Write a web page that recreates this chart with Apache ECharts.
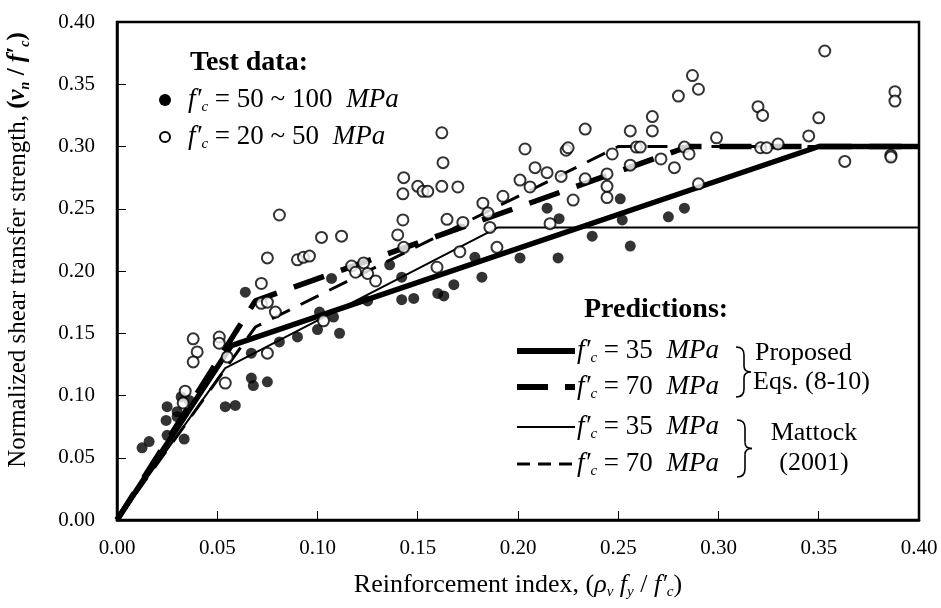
<!DOCTYPE html>
<html>
<head>
<meta charset="utf-8">
<script src="https://cdn.jsdelivr.net/npm/echarts@6/dist/echarts.min.js"></script>
<style>
  html, body { margin: 0; padding: 0; background: #fff; }
  #chart { width: 941px; height: 608px; }
</style>
</head>
<body>
<div id="chart"></div>
<script>
// test data, fc' = 50 ~ 100 MPa (filled)
var highX = [0.0125, 0.016, 0.025, 0.0245, 0.025, 0.0335, 0.030, 0.032, 0.036, 0.030, 0.054, 0.059,
  0.067, 0.068, 0.075, 0.067, 0.064, 0.081, 0.090, 0.107, 0.101, 0.108, 0.100, 0.111, 0.125,
  0.136, 0.142, 0.142, 0.148, 0.160, 0.163, 0.168, 0.1785, 0.182, 0.201, 0.220, 0.2145, 0.2205,
  0.237, 0.251, 0.252, 0.256, 0.275, 0.283];
var highY = [0.058, 0.063, 0.091, 0.080, 0.068, 0.065, 0.083, 0.099, 0.096, 0.087, 0.091, 0.092,
  0.114, 0.108, 0.111, 0.134, 0.183, 0.143, 0.147, 0.194, 0.167, 0.163, 0.153, 0.150, 0.176,
  0.205, 0.195, 0.177, 0.178, 0.182, 0.180, 0.189, 0.211, 0.195, 0.2105, 0.2105, 0.2505, 0.242,
  0.228, 0.258, 0.241, 0.220, 0.2435, 0.2505];

// test data, fc' = 20 ~ 50 MPa (open)
var lowX = [0.034, 0.033, 0.038, 0.040, 0.038, 0.051, 0.051, 0.055, 0.054, 0.075, 0.072, 0.075,
  0.079, 0.072, 0.075, 0.081, 0.090, 0.093, 0.096, 0.102, 0.112, 0.103, 0.117, 0.123, 0.119,
  0.125, 0.129, 0.140, 0.1426, 0.1426, 0.143, 0.143, 0.162, 0.1626, 0.150, 0.1526, 0.155, 0.162,
  0.170, 0.1646, 0.1725, 0.1825, 0.185, 0.1925, 0.201, 0.2035, 0.2085, 0.206, 0.2145, 0.186,
  0.171, 0.1596, 0.1895, 0.2215, 0.2335, 0.2275, 0.216, 0.224, 0.353, 0.287, 0.290, 0.280,
  0.267, 0.267, 0.256, 0.2335, 0.225, 0.259, 0.261, 0.283, 0.2853, 0.247, 0.256, 0.2713, 0.278,
  0.299, 0.3197, 0.322, 0.321, 0.324, 0.3297, 0.345, 0.350, 0.363, 0.388, 0.388, 0.386, 0.386,
  0.2444, 0.2444, 0.2444, 0.290];
var lowY = [0.1035, 0.094, 0.1455, 0.135, 0.127, 0.147, 0.142, 0.131, 0.110, 0.134, 0.174, 0.175,
  0.167, 0.190, 0.2105, 0.245, 0.209, 0.211, 0.212, 0.227, 0.228, 0.160, 0.204, 0.2065, 0.199,
  0.198, 0.192, 0.229, 0.241, 0.262, 0.219, 0.275, 0.311, 0.287, 0.268, 0.264, 0.264, 0.268,
  0.2675, 0.2415, 0.239, 0.2545, 0.2465, 0.260, 0.273, 0.298, 0.283, 0.2675, 0.279, 0.235,
  0.2155, 0.203, 0.219, 0.276, 0.274, 0.257, 0.238, 0.297, 0.3767, 0.357, 0.346, 0.3405,
  0.324, 0.3125, 0.3125, 0.314, 0.299, 0.2995, 0.2995, 0.2995, 0.294, 0.294, 0.285, 0.290, 0.283,
  0.307, 0.332, 0.325, 0.299, 0.299, 0.302, 0.3085, 0.323, 0.288, 0.344, 0.3365, 0.293, 0.2915,
  0.278, 0.268, 0.259, 0.270];

// predictions (break points)
var prop35X = [0, 0.057, 0.35, 0.40];
var prop35Y = [0, 0.140, 0.30, 0.30];
var prop70X = [0, 0.069, 0.285, 0.40];
var prop70Y = [0, 0.176, 0.30, 0.30];
var matt35X = [0, 0.054, 0.19, 0.40];
var matt35Y = [0, 0.122, 0.235, 0.235];
var matt70X = [0, 0.069, 0.25, 0.40];
var matt70Y = [0, 0.155, 0.30, 0.30];

function pairs(xs, ys) {
  return xs.map(function (x, i) { return [x, ys[i]]; });
}

var serif = '"Liberation Serif", "DejaVu Serif", serif';
var fsz = 27;
var richF = {
  n: { fontFamily: serif, fontSize: fsz, color: '#000', lineHeight: 30 },
  i: { fontFamily: serif, fontSize: fsz, fontStyle: 'italic', color: '#000', lineHeight: 30 },
  m: { fontFamily: serif, fontSize: fsz, fontStyle: 'italic', color: '#000', lineHeight: 30, padding: [0, 0, 0, 7] },
  s: { fontFamily: serif, fontSize: 15, fontStyle: 'italic', color: '#000', lineHeight: 16, verticalAlign: 'bottom' }
};
var richName = {
  n: { fontFamily: serif, fontSize: 26, color: '#000', lineHeight: 30 },
  i: { fontFamily: serif, fontSize: 26, fontStyle: 'italic', color: '#000', lineHeight: 30 },
  s: { fontFamily: serif, fontSize: 15, fontStyle: 'italic', color: '#000', lineHeight: 16, verticalAlign: 'bottom' }
};
var richY = {
  n: { fontFamily: serif, fontSize: 25, color: '#000', lineHeight: 28 },
  b: { fontFamily: serif, fontSize: 25, fontWeight: 'bold', color: '#000', lineHeight: 28 },
  bi: { fontFamily: serif, fontSize: 25, fontWeight: 'bold', fontStyle: 'italic', color: '#000', lineHeight: 28 },
  bs: { fontFamily: serif, fontSize: 14, fontWeight: 'bold', fontStyle: 'italic', color: '#000', lineHeight: 15, verticalAlign: 'bottom' }
};
function fcText(rest) {
  return '{i|f′}{s|c}{n| = ' + rest + ' }{m|MPa}';
}
function brace(x, top, bottom) {
  var mid = (top + bottom) / 2;
  var st = { fill: 'none', stroke: '#000', lineWidth: 1.6 };
  return [
    { type: 'bezierCurve', shape: { x1: x, y1: top, cpx1: x + 8, cpy1: top, x2: x + 8, y2: top + 8 }, style: st },
    { type: 'line', shape: { x1: x + 8, y1: top + 8, x2: x + 8, y2: mid - 6 }, style: st },
    { type: 'bezierCurve', shape: { x1: x + 8, y1: mid - 6, cpx1: x + 8, cpy1: mid, x2: x + 15, y2: mid }, style: st },
    { type: 'bezierCurve', shape: { x1: x + 15, y1: mid, cpx1: x + 8, cpy1: mid, x2: x + 8, y2: mid + 6 }, style: st },
    { type: 'line', shape: { x1: x + 8, y1: mid + 6, x2: x + 8, y2: bottom - 8 }, style: st },
    { type: 'bezierCurve', shape: { x1: x + 8, y1: bottom - 8, cpx1: x + 8, cpy1: bottom, x2: x, y2: bottom }, style: st }
  ];
}

var dom = document.getElementById('chart');
var myChart = echarts.init(dom, null, { renderer: 'canvas' });

var legendGraphics = [
  { type: 'text', x: 190, y: 63, style: { text: 'Test data:', fontFamily: serif, fontSize: 28, fontWeight: 'bold', fill: '#000', verticalAlign: 'middle' } },
  { type: 'circle', shape: { cx: 165, cy: 100, r: 6 }, style: { fill: '#000' } },
  { type: 'text', x: 188, y: 100, style: { text: fcText('50 ~ 100'), rich: richF, fontFamily: serif, fontSize: fsz, verticalAlign: 'middle' } },
  { type: 'circle', shape: { cx: 165, cy: 137, r: 5 }, style: { fill: '#fff', stroke: '#000', lineWidth: 2 } },
  { type: 'text', x: 188, y: 137, style: { text: fcText('20 ~ 50'), rich: richF, fontFamily: serif, fontSize: fsz, verticalAlign: 'middle' } },

  { type: 'text', x: 584, y: 310, style: { text: 'Predictions:', fontFamily: serif, fontSize: 28, fontWeight: 'bold', fill: '#000', verticalAlign: 'middle' } },
  { type: 'line', shape: { x1: 517, y1: 351, x2: 575, y2: 351 }, style: { stroke: '#000', lineWidth: 6 } },
  { type: 'text', x: 577, y: 351, style: { text: fcText('35'), rich: richF, fontFamily: serif, fontSize: fsz, verticalAlign: 'middle' } },
  { type: 'line', shape: { x1: 517, y1: 387, x2: 575, y2: 387 }, style: { stroke: '#000', lineWidth: 6, lineDash: [31, 17] } },
  { type: 'text', x: 577, y: 387, style: { text: fcText('70'), rich: richF, fontFamily: serif, fontSize: fsz, verticalAlign: 'middle' } },
  { type: 'line', shape: { x1: 517, y1: 427, x2: 575, y2: 427 }, style: { stroke: '#000', lineWidth: 2 } },
  { type: 'text', x: 577, y: 427, style: { text: fcText('35'), rich: richF, fontFamily: serif, fontSize: fsz, verticalAlign: 'middle' } },
  { type: 'line', shape: { x1: 517, y1: 464, x2: 575, y2: 464 }, style: { stroke: '#000', lineWidth: 3, lineDash: [13, 8] } },
  { type: 'text', x: 577, y: 464, style: { text: fcText('70'), rich: richF, fontFamily: serif, fontSize: fsz, verticalAlign: 'middle' } },

  { type: 'text', x: 755, y: 353, style: { text: 'Proposed', fontFamily: serif, fontSize: 26, fill: '#000', verticalAlign: 'middle' } },
  { type: 'text', x: 753, y: 382, style: { text: 'Eqs. (8-10)', fontFamily: serif, fontSize: 26, fill: '#000', verticalAlign: 'middle' } },
  { type: 'text', x: 814, y: 433, style: { text: 'Mattock', fontFamily: serif, fontSize: 26, fill: '#000', align: 'center', verticalAlign: 'middle' } },
  { type: 'text', x: 814, y: 463, style: { text: '(2001)', fontFamily: serif, fontSize: 26, fill: '#000', align: 'center', verticalAlign: 'middle' } },

  // y-axis title
  { type: 'text', x: 18, y: 250, rotation: Math.PI / 2,
    style: { text: '{n|Normalized shear transfer strength, }{b|(}{bi|v}{bs|n}{b| / }{bi|f′}{bs|c}{b|)}',
      rich: richY, fontFamily: serif, fontSize: 25, align: 'center', verticalAlign: 'middle' } }
].concat(brace(736, 347, 397), brace(737, 420, 477));

var option = {
  animation: false,
  backgroundColor: '#fff',
  grid: {
    left: 117, right: 22, top: 22, bottom: 88,
    show: true, borderColor: '#000', borderWidth: 2.5
  },
  xAxis: {
    type: 'value', min: 0, max: 0.4, interval: 0.05,
    axisLine: { show: true, onZero: false, lineStyle: { color: '#000', width: 2.5 } },
    axisTick: { show: true, inside: true, length: 9, lineStyle: { color: '#000', width: 1 } },
    splitLine: { show: false },
    axisLabel: {
      margin: 18, color: '#000', fontFamily: serif, fontSize: 21,
      formatter: function (v) { return v.toFixed(2); }
    },
    name: '{n|Reinforcement index, (}{i|ρ}{s|v}{i| f}{s|y}{n| / }{i|f′}{s|c}{n|)}',
    nameLocation: 'middle', nameGap: 50,
    nameTextStyle: { fontFamily: serif, fontSize: 26, color: '#000', rich: richName }
  },
  yAxis: {
    type: 'value', min: 0, max: 0.4, interval: 0.05,
    axisLine: { show: true, onZero: false, lineStyle: { color: '#000', width: 2.5 } },
    axisTick: { show: true, inside: true, length: 9, lineStyle: { color: '#000', width: 1 } },
    splitLine: { show: false },
    axisLabel: {
      margin: 22, color: '#000', fontFamily: serif, fontSize: 21,
      formatter: function (v) { return v.toFixed(2); }
    }
  },
  series: [
    {
      name: 'Proposed 35', type: 'line', data: pairs(prop35X, prop35Y), symbol: 'none', z: 3,
      lineStyle: { color: '#000', width: 5.5 }
    },
    {
      name: 'Proposed 70', type: 'line', data: pairs(prop70X, prop70Y), symbol: 'none', z: 3,
      lineStyle: { color: '#000', width: 5.5, type: [32, 18] }
    },
    {
      name: 'Mattock 35', type: 'line', data: pairs(matt35X, matt35Y), symbol: 'none', z: 3,
      lineStyle: { color: '#000', width: 2 }
    },
    {
      name: 'Mattock 70', type: 'line', data: pairs(matt70X, matt70Y), symbol: 'none', z: 3,
      lineStyle: { color: '#000', width: 3, type: [20, 12] }
    },
    {
      name: 'fc 50-100', type: 'scatter', data: pairs(highX, highY), symbol: 'circle', symbolSize: 11, z: 5,
      itemStyle: { color: '#000' }
    },
    {
      name: 'fc 20-50', type: 'scatter', data: pairs(lowX, lowY), symbol: 'circle', symbolSize: 11, z: 5,
      itemStyle: { color: '#fff', borderColor: '#000', borderWidth: 2 }
    }
  ],
  graphic: legendGraphics
};

if (option && typeof option === 'object') {
  myChart.setOption(option);
}

window.addEventListener('resize', myChart.resize);
</script>
</body>
</html>
